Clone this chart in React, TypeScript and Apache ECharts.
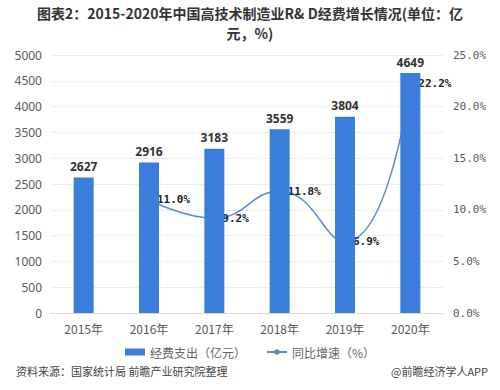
import React, { useEffect, useRef } from "react";
import * as echarts from "echarts";

const categories = ["2015年", "2016年", "2017年", "2018年", "2019年", "2020年"];
const spending = [2627, 2916, 3183, 3559, 3804, 4649];
const growth: (number | null)[] = [null, 11.0, 9.2, 11.8, 6.9, 22.2];
const titleLine1 = "图表2：2015-2020年中国高技术制造业R& D经费增长情况(单位：亿";
const titleLine2 = "元，%)";
const sourceText = "资料来源：国家统计局 前瞻产业研究院整理";
const brandText = "@前瞻经济学人APP";

export default function App() {
  const ref = useRef<HTMLDivElement>(null);
  useEffect(() => {
    if (!ref.current) return;
    const chart = echarts.init(ref.current, null, { renderer: "svg" });
    const titleStyle = {
      fontFamily: "Noto Sans CJK SC",
      fontSize: 14,
      fontWeight: "bold",
      color: "#333333",
      lineHeight: 15,
    };
    chart.setOption({
      animation: false,
      backgroundColor: "#ffffff",
      title: [
        { text: titleLine1, left: "center", top: 5, padding: 0, textStyle: titleStyle },
        { text: titleLine2, left: "center", top: 25, padding: 0, textStyle: titleStyle },
      ],
      grid: { left: 51, right: 57, top: 55, bottom: 77 },
      legend: {
        bottom: 27,
        left: "center",
        itemGap: 20,
        itemWidth: 20,
        itemHeight: 7,
        textStyle: { fontFamily: "Noto Sans CJK SC", fontSize: 12, color: "#666666" },
        data: [
          { name: "经费支出（亿元）", icon: "rect" },
          { name: "同比增速（%）" },
        ],
      },
      xAxis: {
        type: "category",
        data: categories,
        axisTick: { show: false },
        axisLine: { lineStyle: { color: "#d9d9d9" } },
        axisLabel: { fontFamily: "Noto Sans CJK SC", fontSize: 12, color: "#595959", margin: 9 },
      },
      yAxis: [
        {
          type: "value",
          min: 0,
          max: 5000,
          interval: 500,
          axisLine: { show: false },
          axisTick: { show: false },
          splitLine: { lineStyle: { color: "#ececec" } },
          axisLabel: {
            fontFamily: "Noto Sans",
            fontSize: 12,
            color: "#595959",
            margin: 9,
            formatter: (v: number) => String(v),
          },
        },
        {
          type: "value",
          min: 0,
          max: 25,
          interval: 5,
          axisLine: { show: false },
          axisTick: { show: false },
          splitLine: { show: false },
          axisLabel: {
            fontFamily: "DejaVu Sans Mono",
            fontSize: 11,
            color: "#595959",
            margin: 10,
            formatter: (v: number) => v.toFixed(1) + "%",
          },
        },
      ],
      series: [
        {
          name: "经费支出（亿元）",
          type: "bar",
          data: spending,
          barWidth: 20,
          z: 3,
          itemStyle: { color: "#3a7ddb" },
          label: {
            show: true,
            position: "top",
            distance: 5,
            fontFamily: "Noto Sans",
            fontSize: 12,
            fontWeight: "bold",
            color: "#333333",
          },
        },
        {
          name: "同比增速（%）",
          type: "line",
          yAxisIndex: 1,
          data: growth,
          smooth: true,
          z: 1,
          symbol: "circle",
          symbolSize: 4,
          showSymbol: true,
          lineStyle: { color: "#5a8cc8", width: 1.5 },
          itemStyle: { color: "#5a8cc8" },
          label: {
            show: true,
            position: "right",
            distance: 6,
            fontFamily: "DejaVu Sans Mono",
            fontSize: 11,
            fontWeight: "bold",
            color: "#222222",
            formatter: (p: any) => Number(p.value).toFixed(1) + "%",
          },
        },
      ],
      graphic: [
        {
          type: "text",
          left: 16,
          top: 365,
          style: { text: sourceText, font: "11px 'Noto Sans CJK SC'", fill: "#444444" },
        },
        {
          type: "text",
          right: 12,
          top: 365,
          style: { text: brandText, font: "11px 'Noto Sans CJK SC'", fill: "#444444" },
        },
      ],
    });
    return () => chart.dispose();
  }, []);
  return <div ref={ref} style={{ width: 500, height: 390, position: "absolute", left: 0, top: 0 }} />;
}
